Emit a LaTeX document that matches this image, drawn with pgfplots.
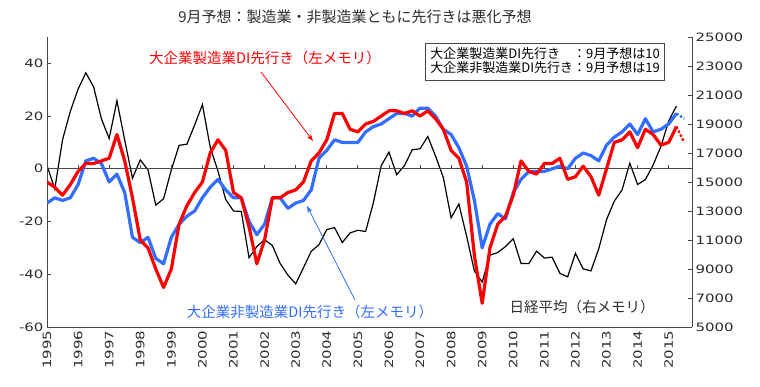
\documentclass[border=0pt]{standalone}
\usepackage{fontspec}
\usepackage{pgfplots}
\pgfplotsset{compat=1.18}
\usetikzlibrary{arrows.meta}
\setmainfont{Noto Sans CJK JP}
\newfontfamily\numfont{DejaVu Sans}[FakeStretch=1.3]
\definecolor{dired}{RGB}{255,0,0}
\definecolor{diblue}{RGB}{51,110,255}
\definecolor{txt}{RGB}{45,45,45}
\definecolor{axisgray}{RGB}{70,70,70}

\pgfplotstableread{
k v
0 16139
1 14517
2 17913
3 19868
4 21407
5 22531
6 21556
7 19361
8 18003
9 20605
10 17888
11 15259
12 16527
13 15830
14 13406
15 13842
16 15837
17 17530
18 17605
19 18934
20 20337
21 17411
22 15747
23 13786
24 12999
25 12969
26 9775
27 10543
28 11025
29 10622
30 9383
31 8579
32 7973
33 9083
34 10219
35 10677
36 11715
37 11859
38 10824
39 11489
40 11669
41 11584
42 13574
43 16111
44 17060
45 15505
46 16128
47 17226
48 17288
49 18138
50 16786
51 15308
52 12526
53 13481
54 11260
55 8860
56 8110
57 9958
58 10133
59 10546
60 11090
61 9383
62 9369
63 10229
64 9755
65 9816
66 8700
67 8455
68 10084
69 9007
70 8870
71 10395
72 12398
73 13677
74 14456
75 16291
76 14828
77 15162
78 16174
79 17451
80 19207
81 20236
}\nikkei

\pgfplotstableread{
k v
0 -5
1 -7
2 -10
3 -6
4 -1
5 2
6 2
7 3
8 4
9 13
10 3
11 -11
12 -27
13 -30
14 -38
15 -45
16 -38
17 -21
18 -14
19 -9
20 -5
21 6
22 11
23 7
24 -9
25 -11
26 -22
27 -36
28 -27
29 -11
30 -11
31 -9
32 -8
33 -5
34 3
35 6
36 11
37 21
38 21
39 15
40 14
41 17
42 18
43 20
44 22
45 22
46 21
47 22
48 20
49 22
50 19
51 15
52 7
53 4
54 -5
55 -33
56 -51
57 -30
58 -21
59 -18
60 -10
61 3
62 -1
63 -2
64 2
65 2
66 4
67 -4
68 -3
69 1
70 -3
71 -10
72 0
73 10
74 11
75 14
76 8
77 15
78 13
79 9
80 10
81 16
}\mfg

\pgfplotstableread{
k v
0 -13
1 -11
2 -12
3 -11
4 -6
5 3
6 4
7 2
8 -5
9 -2
10 -9
11 -26
12 -28
13 -26
14 -34
15 -36
16 -26
17 -21
18 -18
19 -16
20 -11
21 -7
22 -4
23 -8
24 -11
25 -11
26 -20
27 -25
28 -21
29 -11
30 -11
31 -15
32 -13
33 -12
34 -8
35 4
36 7
37 11
38 10
39 10
40 10
41 14
42 16
43 17
44 19
45 21
46 21
47 20
48 23
49 23
50 20
51 15
52 13
53 8
54 1
55 -12
56 -30
57 -21
58 -17
59 -19
60 -9
61 -4
62 -1
63 -1
64 -1
65 0
66 1
67 0
68 4
69 6
70 5
71 3
72 9
73 12
74 14
75 17
76 13
77 19
78 14
79 15
80 17
81 21
}\nonmfg

\begin{document}
\begin{tikzpicture}[x=1pt,y=1pt]
\useasboundingbox (0,0) rectangle (760,387);

% right axis: Nikkei
\begin{axis}[
  at={(47pt,60pt)}, anchor=south west,
  width=645pt, height=290pt, scale only axis,
  xmin=0, xmax=83, ymin=5000, ymax=25000,
  axis y line*=right, axis x line=none,
  xtick=\empty,
  ytick={5000,7000,...,25000},
  scaled y ticks=false,
  tick align=inside, major tick length=4pt,
  yticklabel style={font=\numfont\fontsize{11.5}{12}\selectfont, text=txt,
    /pgf/number format/fixed, /pgf/number format/1000 sep={}},
  /pgf/number format/assume math mode=true,
  axis line style={draw=axisgray, line width=0.8pt},
  major tick style={draw=axisgray, line width=0.8pt},
]
\addplot[black, line width=1.2pt] table[x=k, y=v] {\nikkei};
\end{axis}

% left axis: DI
\begin{axis}[
  at={(47pt,60pt)}, anchor=south west,
  width=645pt, height=290pt, scale only axis,
  xmin=0, xmax=83, ymin=-60, ymax=50,
  axis y line*=left, axis x line*=bottom,
  x axis line style={draw=none},
  xtick={0,4,...,80},
  xticklabels={1995,1996,1997,1998,1999,2000,2001,2002,2003,2004,2005,2006,2007,2008,2009,2010,2011,2012,2013,2014,2015},
  xticklabel style={rotate=90, anchor=east, font=\numfont\fontsize{11.5}{12}\selectfont, text=txt},
  major x tick style={draw=none},
  ytick={-60,-40,...,40},
  tick align=inside, major tick length=4pt,
  yticklabel style={font=\numfont\fontsize{11.5}{12}\selectfont, text=txt},
  /pgf/number format/assume math mode=true,
  axis line style={draw=axisgray, line width=0.8pt},
  major y tick style={draw=axisgray, line width=0.8pt},
]
\draw[axisgray, line width=0.9pt] (axis cs:0,0) -- (axis cs:83,0);
\pgfplotsinvokeforeach{4,8,...,80}{\draw[axisgray, line width=0.8pt] (axis cs:#1,0) -- ++(0pt,4pt);}
\addplot[diblue, line width=3.2pt, line join=round] table[x=k, y=v] {\nonmfg};
\addplot[dired, line width=3.2pt, line join=round] table[x=k, y=v] {\mfg};
\addplot[diblue, line width=2.4pt, dotted] coordinates {(81,21) (82,19)};
\addplot[dired, line width=2.4pt, dotted] coordinates {(81,16) (82,10)};
\end{axis}

% title
\node[text=txt, font=\fontsize{15}{17}\selectfont] at (355,370) {9月予想：製造業・非製造業ともに先行きは悪化予想};

% series labels
\node[text=dired, font=\fontsize{14.5}{16}\selectfont] at (265,329) {大企業製造業DI先行き（左メモリ）};
\draw[dired, line width=0.8pt, -{Stealth[length=7pt,width=5pt]}] (261,315) -- (313,246);

\node[text=diblue, font=\fontsize{14.5}{16}\selectfont] at (310,75) {大企業非製造業DI先行き（左メモリ）};
\draw[diblue, line width=0.8pt, -{Stealth[length=7pt,width=5pt]}] (355,87) -- (307,181);

\node[text=txt, font=\fontsize{14.5}{16}\selectfont] at (582,80) {日経平均（右メモリ）};

% box
\node[draw=axisgray, line width=0.8pt, fill=white, anchor=north west, inner xsep=5pt, inner ysep=4pt, text=black,
      font=\fontsize{13}{14}\selectfont] at (425,344)
 {\begin{tabular}{@{}l@{}l@{}}大企業製造業DI先行き&：9月予想は10\\[-1pt] 大企業非製造業DI先行き&：9月予想は19\end{tabular}};
\end{tikzpicture}
\end{document}
